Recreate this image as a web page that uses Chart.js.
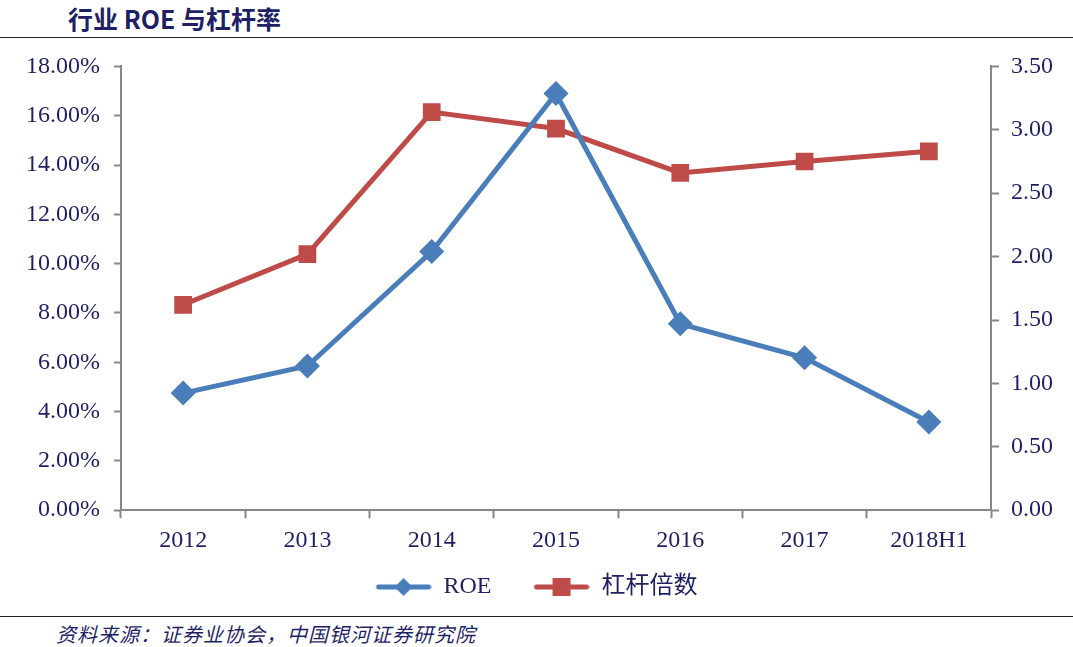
<!DOCTYPE html>
<html>
<head>
<meta charset="utf-8">
<script src="https://cdn.jsdelivr.net/npm/chart.js@4.4.0/dist/chart.umd.min.js"></script>
<style>
  body { margin: 0; width: 1073px; height: 647px; background: #fff; position: relative; overflow: hidden; }
  #title { position: absolute; left: 68px; top: 0px; font: bold 25px "Noto Sans CJK SC", "Liberation Serif", serif; color: #1f1f66; }
  .rule { position: absolute; left: 0; width: 1073px; height: 1px; background: #222; }
  #src { position: absolute; left: 56px; top: 619px; font: italic 20px "Noto Sans CJK SC", serif; color: #1f1f66; letter-spacing: 1px; }
  #box { position: absolute; left: 0; top: 38px; width: 1073px; height: 572px; }
</style>
</head>
<body>
<div id="title">行业 ROE 与杠杆率</div>
<div class="rule" style="top:37px"></div>
<div id="box"><canvas id="c"></canvas></div>
<div class="rule" style="top:616px"></div>
<div id="src">资料来源：证券业协会，中国银河证券研究院</div>
<script>
// ===== Data =====
const years = ["2012", "2013", "2014", "2015", "2016", "2017", "2018H1"];
const roe = [4.75, 5.85, 10.49, 16.90, 7.56, 6.18, 3.58];      // %
const leverage = [1.62, 2.02, 3.14, 3.01, 2.66, 2.75, 2.83];   // 倍

const blue = "#4a7ebb";
const red = "#be4b48";
const axisGray = "#878787";
const txt = "#1f1f66";
const serif = "'Liberation Serif', 'Noto Sans CJK SC', serif";

// legend icon: line with marker (blank strip on the left = gap between items)
const gap = 30;
function legendIcon(color, shape) {
  const cv = document.createElement("canvas");
  cv.width = 56 + gap; cv.height = 22;
  const g = cv.getContext("2d");
  g.translate(gap, 0);
  g.strokeStyle = color; g.lineWidth = 5; g.lineCap = "round";
  g.beginPath(); g.moveTo(3, 11); g.lineTo(53, 11); g.stroke();
  g.fillStyle = color;
  if (shape === "diamond") {
    g.beginPath(); g.moveTo(28, 2); g.lineTo(37, 11); g.lineTo(28, 20); g.lineTo(19, 11); g.closePath(); g.fill();
  } else {
    g.fillRect(19, 2, 18, 18);
  }
  return cv;
}
const icons = [legendIcon(blue, "diamond"), legendIcon(red, "square")];

// shift legend left to cancel the blank strip of the first icon
const legendShift = {
  id: "legendShift",
  afterLayout(chart) {
    chart.legend.left -= gap / 2;
    chart.legend.right -= gap / 2;
  }
};

new Chart(document.getElementById("c"), {
  type: "line",
  data: {
    labels: years,
    datasets: [
      { label: "ROE", data: roe, yAxisID: "y", borderColor: blue, backgroundColor: blue,
        borderWidth: 5, pointStyle: "rectRot", pointRadius: 9, pointHoverRadius: 9, tension: 0 },
      { label: "杠杆倍数", data: leverage, yAxisID: "y2", borderColor: red, backgroundColor: red,
        borderWidth: 5, pointStyle: "rect", pointRadius: 9, pointHoverRadius: 9, tension: 0 }
    ]
  },
  plugins: [legendShift],
  options: {
    responsive: true,
    maintainAspectRatio: false,
    animation: false,
    layout: { padding: { top: 24, bottom: 1 } },
    plugins: {
      tooltip: { enabled: false },
      legend: {
        position: "bottom",
        labels: {
          usePointStyle: true,
          pointStyleWidth: 56 + gap,
          padding: 12,
          color: txt,
          font: { family: serif, size: 24 },
          generateLabels: (chart) => chart.data.datasets.map((ds, i) => ({
            text: ds.label, pointStyle: icons[i], fontColor: txt,
            lineWidth: 0, strokeStyle: "transparent", fillStyle: "transparent", datasetIndex: i
          }))
        }
      }
    },
    scales: {
      x: {
        offset: true,
        grid: { display: true, drawOnChartArea: false, offset: true, tickLength: 8, tickColor: axisGray, tickWidth: 2 },
        border: { color: axisGray, width: 2 },
        ticks: { color: txt, font: { family: serif, size: 24 }, padding: 8 }
      },
      y: {
        position: "left",
        min: 0, max: 18,
        afterFit: (s) => { s.width = 121; },
        grid: { drawOnChartArea: false, tickLength: 7, tickColor: axisGray, tickWidth: 2 },
        border: { color: axisGray, width: 2 },
        ticks: { stepSize: 2, color: txt, font: { family: serif, size: 24 }, padding: 14,
                 callback: (v) => v.toFixed(2) + "%" }
      },
      y2: {
        position: "right",
        min: 0, max: 3.5,
        afterFit: (s) => { s.width = 82; },
        grid: { drawOnChartArea: false, tickLength: 8, tickColor: axisGray, tickWidth: 2 },
        border: { color: axisGray, width: 2 },
        ticks: { stepSize: 0.5, color: txt, font: { family: serif, size: 24 }, padding: 12,
                 callback: (v) => v.toFixed(2) }
      }
    }
  }
});
</script>
</body>
</html>
